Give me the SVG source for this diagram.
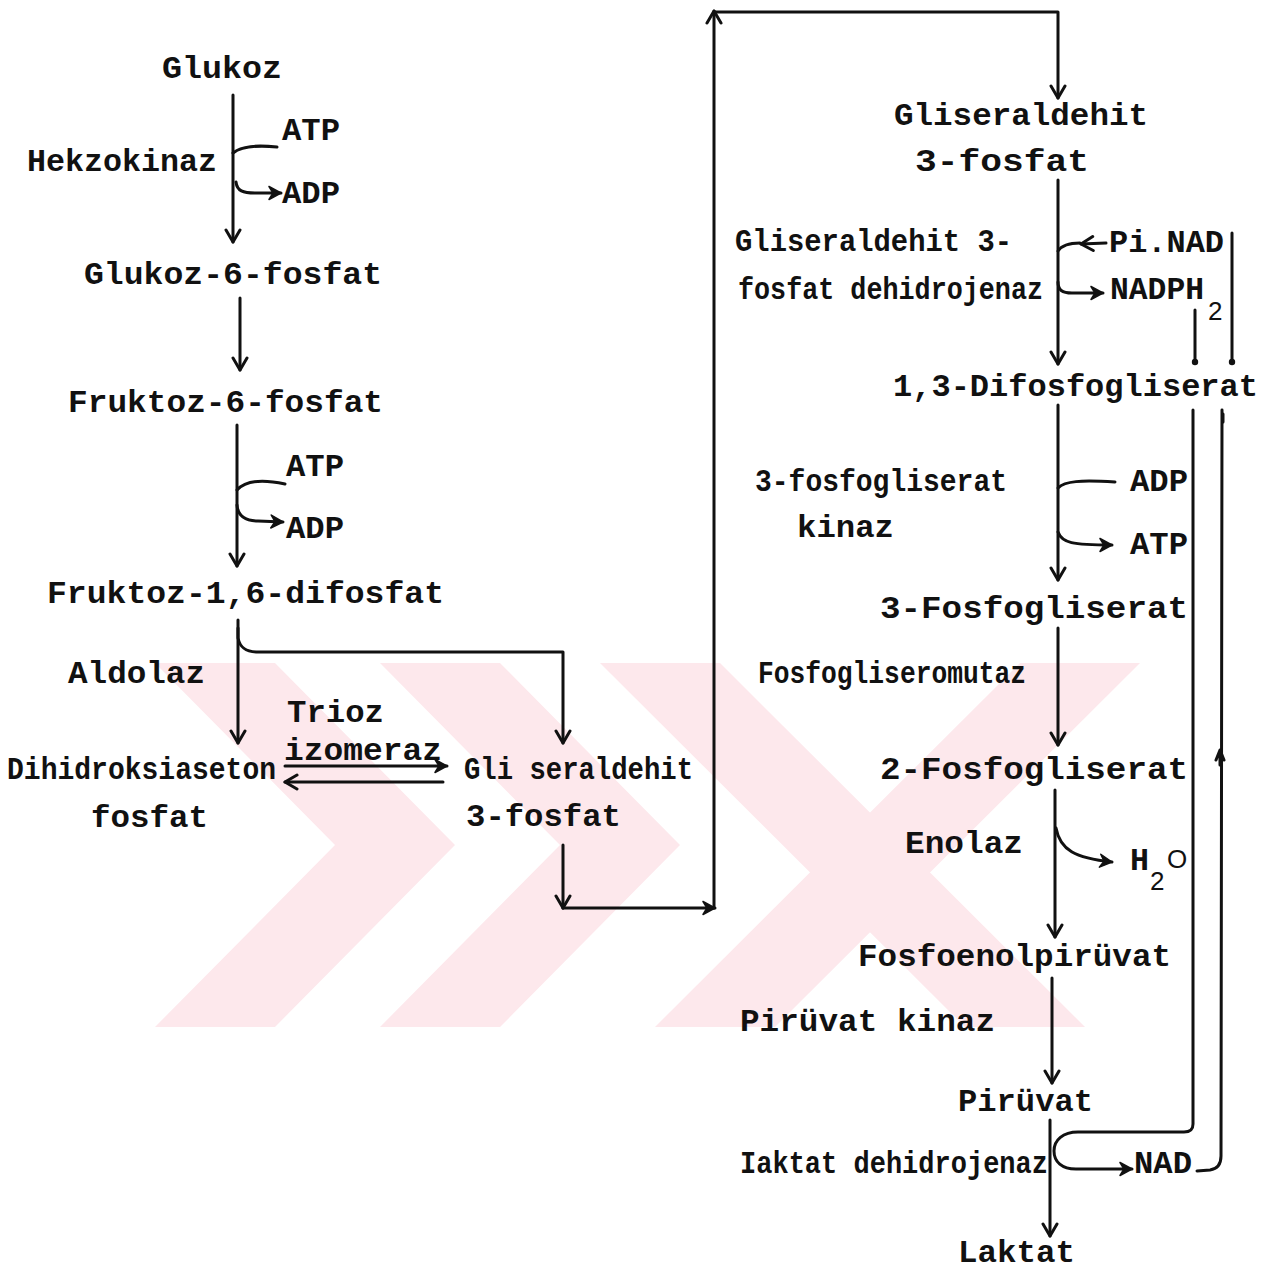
<svg xmlns="http://www.w3.org/2000/svg" width="1276" height="1273" viewBox="0 0 1276 1273">
<style>
  .t { font-family: "Liberation Mono", "Courier New", monospace; font-size: 32px; font-weight: bold; fill: #111; }
  .s { font-family: "Liberation Sans", Arial, sans-serif; font-size: 26px; fill: #111; }
  .c { fill: none; stroke: #111; stroke-width: 3; stroke-linecap: round; stroke-linejoin: round; }
  .wm { fill: #fde8ec; stroke: none; }
</style>
<defs>
  <marker id="av" viewBox="-14 -9 16 18" markerWidth="16" markerHeight="18" refX="0" refY="0" orient="auto" markerUnits="userSpaceOnUse">
    <path d="M-12,-7 L0,0 L-12,7" fill="none" stroke="#111" stroke-width="3" stroke-linecap="round" stroke-linejoin="round"/>
  </marker>
  <marker id="af" viewBox="-14 -9 16 18" markerWidth="16" markerHeight="18" refX="0" refY="0" orient="auto" markerUnits="userSpaceOnUse">
    <path d="M-12,-6.5 L0,0 L-12,6.5 L-8,0 Z" fill="#111" stroke="#111" stroke-width="1.5" stroke-linejoin="round"/>
  </marker>
  <marker id="dot" viewBox="-5 -5 10 10" markerWidth="10" markerHeight="10" refX="0" refY="0" orient="auto" markerUnits="userSpaceOnUse">
    <circle cx="0" cy="0" r="3.2" fill="#111"/>
  </marker>
</defs>
<rect width="1276" height="1273" fill="#ffffff"/>

<g id="watermark">
  <polygon class="wm" points="155,663 275,663 455,845 275,1027 155,1027 335,845"/>
  <polygon class="wm" points="380,663 500,663 680,845 500,1027 380,1027 560,845"/>
  <polygon class="wm" points="600,663 720,663 1085,1027 965,1027"/>
  <polygon class="wm" points="1020,663 1140,663 775,1027 655,1027"/>
</g>

<g id="connectors">
  <!-- left column -->
  <path class="c" d="M233,95 L233,242" marker-end="url(#av)"/>
  <path class="c" d="M233,153 C242,146 256,145 277,147"/>
  <path class="c" d="M236,182 C237,191 243,193 255,193 L281,193" marker-end="url(#af)"/>
  <path class="c" d="M240,298 L240,370" marker-end="url(#av)"/>
  <path class="c" d="M237,425 L237,566" marker-end="url(#av)"/>
  <path class="c" d="M237,490 C245,481 262,479 285,484"/>
  <path class="c" d="M237,505 C238,517 246,521 258,521 L283,522" marker-end="url(#af)"/>
  <path class="c" d="M238,620 L238,743" marker-end="url(#av)"/>
  <path class="c" d="M238,628 L238,638 C240,648 246,652 258,652 L563,652 L563,743" marker-end="url(#av)"/>
  <path class="c" d="M285,766 L447,766" stroke-width="3.4" marker-end="url(#af)"/>
  <path class="c" d="M443,782 L285,782" stroke-width="3.4" marker-end="url(#av)"/>
  <path class="c" d="M563,845 L563,908" stroke-width="3.4" marker-end="url(#av)"/>
  <path class="c" d="M563,908 L715,908" stroke-width="3.4" marker-end="url(#af)"/>
  <path class="c" d="M714,908 L714,11" marker-end="url(#av)"/>
  <path class="c" d="M714,12 L1058,12 L1058,98" marker-end="url(#av)"/>
  <!-- right column -->
  <path class="c" d="M1058,180 L1058,364" marker-end="url(#av)"/>
  <path class="c" d="M1058,251 C1062,245 1070,243 1080,243"/>
  <path class="c" d="M1106,243 L1081,244" marker-end="url(#av)"/>
  <path class="c" d="M1058,282 C1058,290 1062,293 1072,293 L1103,293" marker-end="url(#af)"/>
  <path class="c" d="M1058,405 L1058,580" marker-end="url(#av)"/>
  <path class="c" d="M1058,488 C1065,481 1080,480 1115,482"/>
  <path class="c" d="M1058,532 C1062,543 1072,545 1112,545" marker-end="url(#af)"/>
  <path class="c" d="M1058,628 L1058,745" marker-end="url(#av)"/>
  <path class="c" d="M1055,790 L1055,937" marker-end="url(#av)"/>
  <path class="c" d="M1056,828 C1060,850 1075,858 1112,862" marker-end="url(#af)"/>
  <path class="c" d="M1052,978 L1052,1083" marker-end="url(#av)"/>
  <path class="c" d="M1050,1120 L1050,1236" marker-end="url(#av)"/>
  <!-- NADPH2 / NAD loop -->
  <path class="c" d="M1195,310 L1195,362" marker-end="url(#dot)"/>
  <path class="c" d="M1232,233 L1232,362" marker-end="url(#dot)"/>
  <path class="c" d="M1193,410 L1193,1124 C1193,1130 1190,1132 1184,1132 L1078,1132 C1063,1132 1054,1140 1054,1151 C1054,1162 1062,1169 1076,1169 L1132,1169" marker-end="url(#af)"/>
  <path class="c" d="M1197,1171 L1210,1170 C1217,1169 1221,1165 1221,1156 L1222,410"/>
  <path class="c" d="M1220,765 L1220,752 M1216,760 L1220,750 L1224,760"/>
  <path class="c" d="M1223,422 L1223,414"/>
</g>

<g id="n-glukoz"><text class="t" x="162" y="78" textLength="120" lengthAdjust="spacingAndGlyphs">Glukoz</text></g>
<g id="e-hekzokinaz"><text class="t" x="27" y="171" textLength="190" lengthAdjust="spacingAndGlyphs">Hekzokinaz</text></g>
<g id="c-atp1"><text class="t" x="282" y="140" textLength="58" lengthAdjust="spacingAndGlyphs">ATP</text></g>
<g id="c-adp1"><text class="t" x="282" y="203" textLength="58" lengthAdjust="spacingAndGlyphs">ADP</text></g>
<g id="n-g6p"><text class="t" x="84" y="284" textLength="298" lengthAdjust="spacingAndGlyphs">Glukoz-6-fosfat</text></g>
<g id="n-f6p"><text class="t" x="68" y="412" textLength="315" lengthAdjust="spacingAndGlyphs">Fruktoz-6-fosfat</text></g>
<g id="c-atp2"><text class="t" x="286" y="476" textLength="58" lengthAdjust="spacingAndGlyphs">ATP</text></g>
<g id="c-adp2"><text class="t" x="286" y="538" textLength="58" lengthAdjust="spacingAndGlyphs">ADP</text></g>
<g id="n-f16dp"><text class="t" x="47" y="603" textLength="397" lengthAdjust="spacingAndGlyphs">Fruktoz-1,6-difosfat</text></g>
<g id="e-aldolaz"><text class="t" x="68" y="683" textLength="137" lengthAdjust="spacingAndGlyphs">Aldolaz</text></g>
<g id="e-trioz"><text class="t" x="287" y="722" textLength="97" lengthAdjust="spacingAndGlyphs">Trioz</text><text class="t" x="284" y="760" textLength="158" lengthAdjust="spacingAndGlyphs">izomeraz</text></g>
<g id="n-dhap"><text class="t" x="7" y="779" textLength="269" lengthAdjust="spacingAndGlyphs">Dihidroksiaseton</text><text class="t" x="91" y="827" textLength="117" lengthAdjust="spacingAndGlyphs">fosfat</text></g>
<g id="n-gap1"><text class="t" x="464" y="779" textLength="229" lengthAdjust="spacingAndGlyphs">Gli seraldehit</text><text class="t" x="466" y="826" textLength="155" lengthAdjust="spacingAndGlyphs">3-fosfat</text></g>

<g id="n-gap2"><text class="t" x="894" y="125" textLength="254" lengthAdjust="spacingAndGlyphs">Gliseraldehit</text><text class="t" x="915" y="171" textLength="174" lengthAdjust="spacingAndGlyphs">3-fosfat</text></g>
<g id="e-gapdh"><text class="t" x="735" y="251" textLength="277" lengthAdjust="spacingAndGlyphs">Gliseraldehit 3-</text><text class="t" x="738" y="299" textLength="305" lengthAdjust="spacingAndGlyphs">fosfat dehidrojenaz</text></g>
<g id="c-pinad"><text class="t" x="1109" y="252" textLength="115" lengthAdjust="spacingAndGlyphs">Pi.NAD</text></g>
<g id="c-nadph2"><text class="t" x="1110" y="299" textLength="94" lengthAdjust="spacingAndGlyphs">NADPH</text><text class="s" x="1208" y="320">2</text></g>
<g id="n-13dpg"><text class="t" x="893" y="396" textLength="365" lengthAdjust="spacingAndGlyphs">1,3-Difosfogliserat</text></g>
<g id="e-pgk"><text class="t" x="755" y="491" textLength="252" lengthAdjust="spacingAndGlyphs">3-fosfogliserat</text><text class="t" x="797" y="537" textLength="97" lengthAdjust="spacingAndGlyphs">kinaz</text></g>
<g id="c-adp3"><text class="t" x="1130" y="491" textLength="58" lengthAdjust="spacingAndGlyphs">ADP</text></g>
<g id="c-atp3"><text class="t" x="1130" y="554" textLength="58" lengthAdjust="spacingAndGlyphs">ATP</text></g>
<g id="n-3pg"><text class="t" x="880" y="618" textLength="308" lengthAdjust="spacingAndGlyphs">3-Fosfogliserat</text></g>
<g id="e-pgm"><text class="t" x="758" y="683" textLength="268" lengthAdjust="spacingAndGlyphs">Fosfogliseromutaz</text></g>
<g id="n-2pg"><text class="t" x="880" y="779" textLength="308" lengthAdjust="spacingAndGlyphs">2-Fosfogliserat</text></g>
<g id="e-enolaz"><text class="t" x="905" y="853" textLength="118" lengthAdjust="spacingAndGlyphs">Enolaz</text></g>
<g id="c-h2o"><text class="t" x="1130" y="870" textLength="19" lengthAdjust="spacingAndGlyphs">H</text><text class="s" x="1150" y="890">2</text><text class="s" x="1167" y="868">O</text></g>
<g id="n-pep"><text class="t" x="858" y="966" textLength="313" lengthAdjust="spacingAndGlyphs">Fosfoenolpirüvat</text></g>
<g id="e-pk"><text class="t" x="740" y="1031" textLength="255" lengthAdjust="spacingAndGlyphs">Pirüvat kinaz</text></g>
<g id="n-piruvat"><text class="t" x="958" y="1111" textLength="135" lengthAdjust="spacingAndGlyphs">Pirüvat</text></g>
<g id="e-ldh"><text class="t" x="740" y="1173" textLength="308" lengthAdjust="spacingAndGlyphs">Iaktat dehidrojenaz</text></g>
<g id="c-nad"><text class="t" x="1134" y="1173" textLength="58" lengthAdjust="spacingAndGlyphs">NAD</text></g>
<g id="n-laktat"><text class="t" x="958" y="1262" textLength="117" lengthAdjust="spacingAndGlyphs">Laktat</text></g>
</svg>
